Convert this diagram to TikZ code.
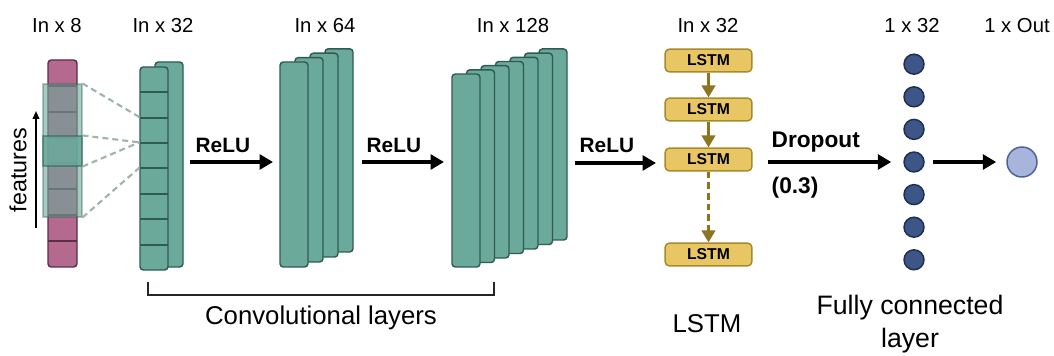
\documentclass[tikz,border=0pt]{standalone}
\usepackage{fontspec}
\setmainfont{Liberation Sans}
\usetikzlibrary{arrows.meta,fit,calc}
\definecolor{tealF}{HTML}{6BA99B}
\definecolor{tealD}{HTML}{2E5C53}
\definecolor{pinkF}{HTML}{B46A8E}
\definecolor{pinkD}{HTML}{5C2D45}
\definecolor{lstmF}{HTML}{E8C664}
\definecolor{lstmD}{HTML}{A88A2A}
\definecolor{lstmA}{HTML}{8C7420}
\definecolor{dotF}{HTML}{3D5587}
\definecolor{dotD}{HTML}{1E2E4E}
\definecolor{outF}{HTML}{A7B5DC}
\definecolor{outD}{HTML}{4B6398}
\definecolor{dashC}{HTML}{9DB5AC}
\tikzset{
  layer/.style={draw=tealD, fill=tealF, line width=1.1pt, rounded corners=2.5pt, inner sep=0pt},
  inbox/.style={draw=pinkD, fill=pinkF, line width=1.1pt, rounded corners=2.5pt, inner sep=0pt},
  cellline/.style={line width=1.5pt},
  overlay/.style={draw=tealD, draw opacity=0.35, fill=tealF, fill opacity=0.6, line width=0.8pt, inner sep=0pt},
  overlayc/.style={draw=tealD, draw opacity=0.5, fill=tealF, fill opacity=0.85, line width=0.8pt, inner sep=0pt},
  dashln/.style={draw=dashC, line width=1.6pt, dash pattern=on 4.5pt off 3pt},
  dimlabel/.style={font=\fontsize{15.2}{18}\selectfont, anchor=base},
  actlabel/.style={font=\bfseries\fontsize{15.6}{18}\selectfont, anchor=base west},
  droplabel/.style={font=\bfseries\fontsize{17}{20}\selectfont, anchor=base west},
  biglabel/.style={font=\fontsize{19.3}{23}\selectfont, anchor=base},
  bigarr/.style={line width=3pt, -{Triangle[length=10pt,width=11pt]}},
  lstmbox/.style={draw=lstmD, fill=lstmF, line width=1.1pt, rounded corners=3pt, minimum width=65pt, minimum height=17pt, inner sep=0pt, font=\bfseries\fontsize{11.8}{13}\selectfont},
  lstmarr/.style={draw=lstmA, line width=2.3pt, -{Triangle[length=9pt,width=10pt]}, color=lstmA},
  dot/.style={circle, draw=dotD, fill=dotF, line width=1.1pt, minimum size=15pt, inner sep=0pt},
  outdot/.style={circle, draw=outD, fill=outF, line width=1.1pt, minimum size=22.5pt, inner sep=0pt},
}
\begin{document}
\begin{tikzpicture}[x=0.75pt,y=-0.75pt]
\fill[white] (0,0) rectangle (1054,356);
\useasboundingbox (0,0) rectangle (1054,356);

% ---- input column ----
\node[inbox, fit={(48,60)(77,267)}] (inp) {};
\foreach \k in {1,...,7}{
  \draw[pinkD, cellline] (48,60+25.875*\k) -- (77,60+25.875*\k);
}
\node[overlay, fit={(43,84)(82,217)}] (ov) {};
\node[overlayc, fit={(43,136)(82,166)}] (ovc) {};

% features arrow and label
\coordinate (fs) at (36,228);
\coordinate (fe) at (36,111);
\draw[line width=1.3pt, -{Triangle[length=6pt,width=5pt]}] (fs) -- (fe);
\node[rotate=90, font=\fontsize{17.5}{20}\selectfont] (feat) at (18,170) {features};

% ---- conv layer 1 ----
\node[layer, fit={(155,62)(183,267)}] (c1b) {};
\node[layer, fit={(140,67)(168,270)}] (c1f) {};
\foreach \k in {1,...,7}{
  \draw[tealD, cellline] (140,67+25.375*\k) -- (168,67+25.375*\k);
}

% dashed receptive-field lines
\draw[dashln] (ov.north east) -- ($(c1f.north west)+(0,50.75)$);
\draw[dashln] (ovc.north east) -- ($(c1f.north west)+(0,76.1)$);
\draw[dashln] (ovc.south east) -- ($(c1f.north west)+(0,76.1)$);
\draw[dashln] (ov.south east) -- ($(c1f.north west)+(0,101.5)$);

% ---- conv layer 2 ----
\foreach \i in {3,2,1,0}{
  \pgfmathsetmacro\xl{280+15*\i}
  \pgfmathsetmacro\yt{62-4.4*\i}
  \pgfmathsetmacro\yb{267-5*\i}
  \node[layer, fit={(\xl,\yt)(\xl+28,\yb)}] (cb\i) {};
}

% ---- conv layer 3 ----
\foreach \i in {6,5,4,3,2,1,0}{
  \pgfmathsetmacro\xl{452+14.5*\i}
  \pgfmathsetmacro\yt{74-4.17*\i}
  \pgfmathsetmacro\yb{267-4.5*\i}
  \node[layer, fit={(\xl,\yt)(\xl+28,\yb)}] (cc\i) {};
}

% ---- dimension labels ----
\node[dimlabel] (t1) at (57,33) {In x 8};
\node[dimlabel] (t2) at (163,33) {In x 32};
\node[dimlabel] (t3) at (325,33) {In x 64};
\node[dimlabel] (t4) at (513,33) {In x 128};
\node[dimlabel] (t5) at (708,33) {In x 32};
\node[dimlabel] (t6) at (912,33) {1 x 32};
\node[dimlabel] (t7) at (1017,33) {1 x Out};

% ---- ReLU arrows ----
\coordinate (r1s) at (190,162);
\coordinate (r1e) at (273,162);
\coordinate (r2s) at (362,162);
\coordinate (r2e) at (444,162);
\coordinate (r3s) at (575,163);
\coordinate (r3e) at (656,163);
\draw[bigarr] (r1s) -- (r1e);
\draw[bigarr] (r2s) -- (r2e);
\draw[bigarr] (r3s) -- (r3e);
\node[actlabel] (rl1) at (191,153) {ReLU};
\node[actlabel] (rl2) at (362,153) {ReLU};
\node[actlabel] (rl3) at (575,153) {ReLU};

% ---- LSTM ----
\node[lstmbox] (l1) at (708.5,60.5) {LSTM};
\node[lstmbox] (l2) at (708.5,109.5) {LSTM};
\node[lstmbox] (l3) at (708.5,159.5) {LSTM};
\node[lstmbox] (l4) at (708.5,254.5) {LSTM};
\draw[lstmarr] (l1) -- (l2);
\draw[lstmarr] (l2) -- (l3);
\draw[lstmarr, dash pattern=on 5pt off 3pt] (l3) -- (l4);

% ---- fully connected ----
\foreach \k in {0,...,6}{
  \node[dot] (d\k) at (914,64.2+32.6*\k) {};
}
\node[outdot] (out) at (1022,162) {};
\coordinate (ds) at (768,162);
\draw[bigarr] (ds) -- ([xshift=-9pt]d3.west);
\node[droplabel] (drop) at (767,148) {Dropout};
\node[droplabel] (p03) at (767,194) {(0.3)};
\draw[bigarr] ([xshift=6.5pt]d3.east) -- ([xshift=-7.5pt]out.west);

% ---- bracket and bottom labels ----
\coordinate (bk1) at (148,282);
\coordinate (bk2) at (148,295);
\coordinate (bk3) at (494,295);
\coordinate (bk4) at (494,282);
\draw[line width=1.5pt, color=black!85] (bk1) -- (bk2) -- (bk3) -- (bk4);
\node[biglabel] (conv) at (321,325) {Convolutional layers};
\node[biglabel] (lstml) at (707,332) {LSTM};
\node[biglabel, font=\fontsize{20}{24}\selectfont] (fc1) at (910,315) {Fully connected};
\node[biglabel, font=\fontsize{20}{24}\selectfont] (fc2) at (910,347) {layer};
\end{tikzpicture}
\end{document}
